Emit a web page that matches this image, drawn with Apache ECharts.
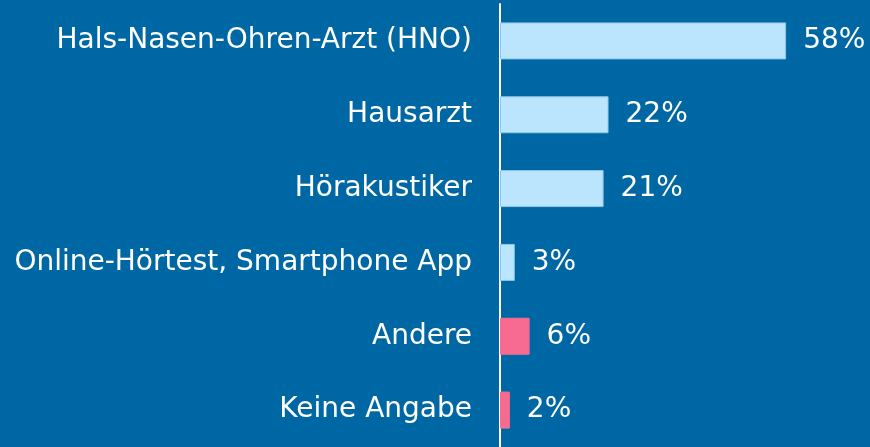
<!DOCTYPE html>
<html>
<head>
<meta charset="utf-8">
<script src="https://cdn.jsdelivr.net/npm/echarts@6/dist/echarts.min.js"></script>
<style>
  html, body { margin: 0; padding: 0; background: #0067a5; }
  #main { width: 870px; height: 447px; }
</style>
</head>
<body>
<div id="main"></div>
<script>
var categories = ['Hals-Nasen-Ohren-Arzt (HNO)', 'Hausarzt', 'Hörakustiker', 'Online-Hörtest, Smartphone App', 'Andere', 'Keine Angabe'];
var values = [58, 22, 21, 3, 6, 2];
var barColors = ['#bbe5fc', '#bbe5fc', '#bbe5fc', '#bbe5fc', '#f76b90', '#f76b90'];

var chart = echarts.init(document.getElementById('main'));

var option = {
  backgroundColor: '#0067a5',
  animation: false,
  grid: { left: 500, right: 74, top: 4, bottom: -3 },
  xAxis: {
    type: 'value',
    min: 0,
    max: 60,
    show: false
  },
  yAxis: {
    type: 'category',
    inverse: true,
    data: categories,
    axisLine: { lineStyle: { color: '#ffffff', width: 2 } },
    axisTick: { show: false },
    axisLabel: {
      color: '#ffffff',
      fontFamily: 'DejaVu Sans',
      fontSize: 28,
      margin: 28,
      padding: [5, 0, 0, 0]
    }
  },
  series: [{
    type: 'bar',
    barWidth: 37,
    data: values.map(function (v, i) {
      return {
        value: v,
        itemStyle: {
          color: barColors[i],
          borderColor: i < 4 ? '#8cc6ea' : barColors[i],
          borderWidth: 1
        }
      };
    }),
    label: {
      show: true,
      position: 'right',
      distance: 17,
      color: '#ffffff',
      fontFamily: 'DejaVu Sans',
      fontSize: 28,
      padding: [5, 0, 0, 0],
      formatter: '{c}%'
    }
  }]
};

chart.setOption(option);
</script>
</body>
</html>
